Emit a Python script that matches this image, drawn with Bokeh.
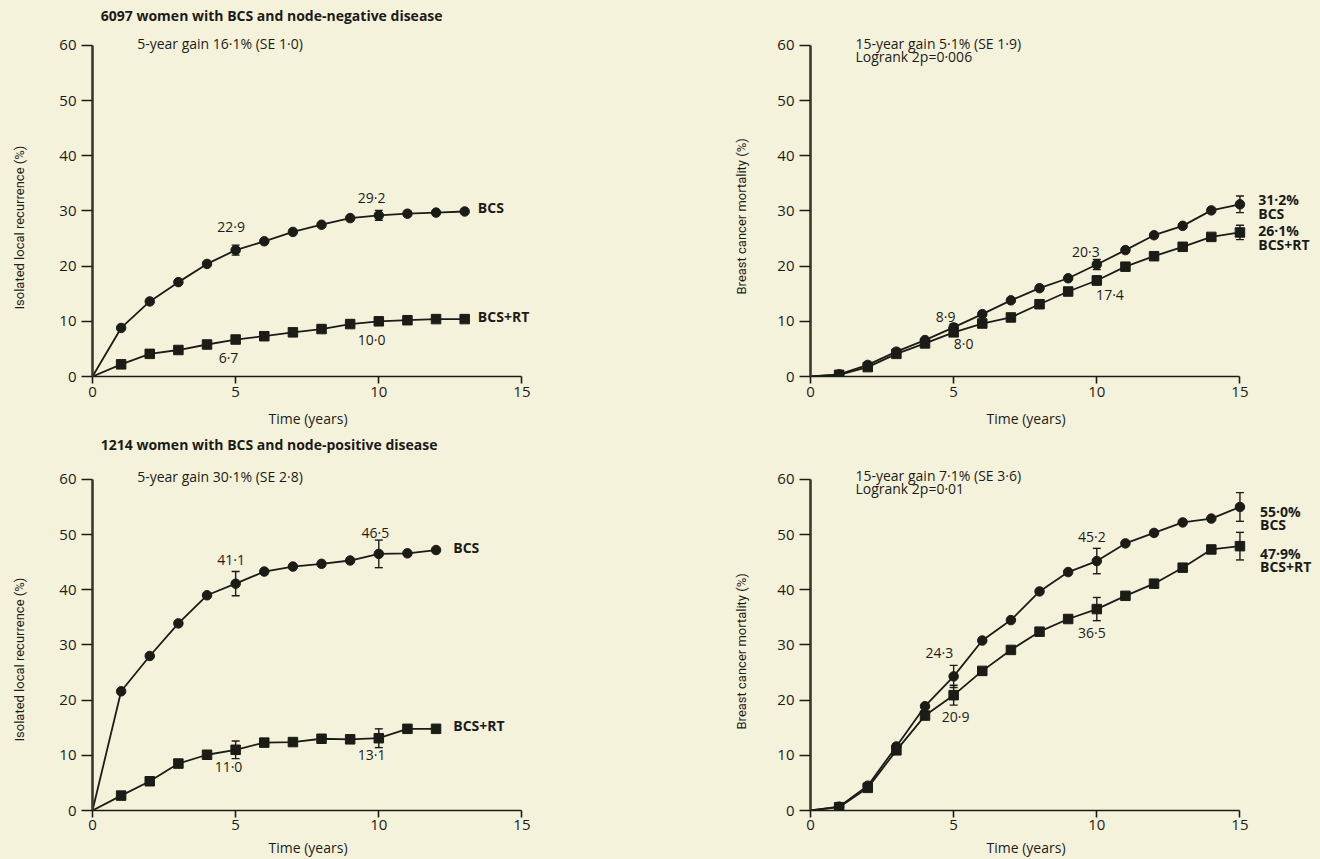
from bokeh.plotting import figure
from bokeh.layouts import column, row
from bokeh.models import Range1d, FixedTicker, ColumnDataSource, Whisker, TeeHead, Title
from bokeh.core.properties import value
from bokeh.embed import file_html
from bokeh.resources import INLINE

# ------------------------------------------------------------------ data
# Panel A: node-negative, isolated local recurrence (%)
a_years = list(range(0, 14))
a_bcs = [0, 8.8, 13.6, 17.1, 20.4, 22.9, 24.5, 26.2, 27.5, 28.7, 29.2, 29.5, 29.7, 29.9]
a_rt = [0, 2.2, 4.1, 4.8, 5.8, 6.7, 7.3, 8.0, 8.6, 9.5, 10.0, 10.2, 10.4, 10.4]
a_err_years = [5, 10]
a_bcs_se = [0.9, 0.9]
a_rt_se = [0.4, 0.5]

# Panel B: node-negative, breast cancer mortality (%)
b_years = list(range(0, 16))
b_bcs = [0, 0.4, 2.1, 4.5, 6.6, 8.9, 11.3, 13.8, 16.0, 17.8, 20.3, 22.9, 25.6, 27.3, 30.1, 31.2]
b_rt = [0, 0.3, 1.7, 4.1, 6.0, 8.0, 9.6, 10.7, 13.1, 15.4, 17.4, 19.9, 21.8, 23.5, 25.3, 26.1]
b_err_years = [5, 10, 15]
b_bcs_se = [0.6, 0.9, 1.5]
b_rt_se = [0.5, 0.8, 1.3]

# Panel C: node-positive, isolated local recurrence (%)
c_years = list(range(0, 13))
c_bcs = [0, 21.6, 28.0, 33.9, 39.0, 41.1, 43.3, 44.2, 44.7, 45.3, 46.5, 46.6, 47.2]
c_rt = [0, 2.7, 5.3, 8.5, 10.1, 11.0, 12.3, 12.4, 13.0, 12.9, 13.1, 14.8, 14.8]
c_err_years = [5, 10]
c_bcs_se = [2.2, 2.5]
c_rt_se = [1.6, 1.7]

# Panel D: node-positive, breast cancer mortality (%)
d_years = list(range(0, 16))
d_bcs = [0, 0.7, 4.5, 11.6, 18.9, 24.3, 30.8, 34.5, 39.7, 43.2, 45.2, 48.4, 50.3, 52.2, 52.9, 55.0]
d_rt = [0, 0.6, 4.1, 10.9, 17.2, 20.9, 25.3, 29.1, 32.4, 34.7, 36.5, 38.9, 41.1, 44.0, 47.3, 47.9]
d_err_years = [5, 10, 15]
d_bcs_se = [2.0, 2.3, 2.6]
d_rt_se = [1.8, 2.1, 2.5]

x_ticks = [0, 5, 10, 15]
y_ticks = [0, 10, 20, 30, 40, 50, 60]

titles = ["6097 women with BCS and node-negative disease",
          "1214 women with BCS and node-positive disease"]
x_label = "Time (years)"
y_label_left = "Isolated local recurrence (%)"
y_label_right = "Breast cancer mortality (%)"
a_notes = ["5-year gain 16·1% (SE 1·0)"]
b_notes = ["15-year gain 5·1% (SE 1·9)", "Logrank 2p=0·006"]
c_notes = ["5-year gain 30·1% (SE 2·8)"]
d_notes = ["15-year gain 7·1% (SE 3·6)", "Logrank 2p=0·01"]

a_values = ["22·9", "29·2", "6·7", "10·0"]
b_values = ["8·9", "20·3", "8·0", "17·4"]
c_values = ["41·1", "46·5", "11·0", "13·1"]
d_values = ["24·3", "45·2", "20·9", "36·5"]

left_ends = ["BCS", "BCS+RT"]
b_ends = ["31·2%", "BCS", "26·1%", "BCS+RT"]
d_ends = ["55·0%", "BCS", "47·9%", "BCS+RT"]

# ------------------------------------------------------------------ style
BG = "#F5F2DC"
INK = "#1c1c17"
FONT = "Open Sans"
NARROW = "Roboto"
PX_X = 28.63          # pixels per year
PX_Y = 332.0 / 60.0   # pixels per percentage point


def make_panel(width, height, left, bottom, ylabel, ylab_offset, ylab_gap,
               tick_standoff, xlab_standoff):
    fw = width - left
    fh = height - bottom
    p = figure(width=width, height=height,
               x_range=Range1d(0, fw / PX_X), y_range=Range1d(0, fh / PX_Y),
               output_backend="svg", toolbar_location=None,
               min_border_left=left, min_border_right=0,
               min_border_top=0, min_border_bottom=bottom,
               background_fill_color=BG, border_fill_color=BG,
               outline_line_color=None)
    p.grid.visible = False
    xa = p.xaxis[0]
    xa.ticker = FixedTicker(ticks=x_ticks)
    xa.bounds = (0, 15)
    xa.major_tick_out = 7
    xa.major_tick_in = 0
    xa.minor_tick_out = 0
    xa.minor_tick_in = 0
    xa.axis_line_width = 1.6
    xa.axis_line_color = INK
    xa.major_tick_line_width = 1.6
    xa.major_tick_line_color = INK
    xa.major_label_text_font = FONT
    xa.major_label_text_font_size = "15px"
    xa.major_label_text_color = INK
    xa.major_label_standoff = tick_standoff

    ya = p.yaxis[0]
    ya.ticker = FixedTicker(ticks=y_ticks)
    ya.bounds = (0, 60)
    ya.major_tick_out = 11
    ya.major_tick_in = 0
    ya.minor_tick_out = 0
    ya.minor_tick_in = 0
    ya.axis_line_width = 2.6
    ya.axis_line_color = "#3a392c"
    ya.major_tick_line_width = 1.6
    ya.major_tick_line_color = INK
    ya.major_label_text_font = FONT
    ya.major_label_text_font_size = "15px"
    ya.major_label_text_color = INK
    ya.major_label_standoff = 5

    # axis titles placed as side titles so they can sit off-centre like the reference
    p.add_layout(Title(text=x_label, align="left", offset=176, standoff=xlab_standoff,
                       text_font=FONT, text_font_size="14px", text_font_style="normal",
                       text_color=INK), "below")
    # thin spacer between the y tick labels and the y axis title
    p.add_layout(Title(text=" ", standoff=ylab_gap, text_font_size="1px",
                       text_color=BG), "left")
    p.add_layout(Title(text=ylabel, align="left", offset=ylab_offset, standoff=0,
                       vertical_align="middle",
                       text_font=NARROW, text_font_size="13px", text_font_style="normal",
                       text_color=INK), "left")
    return p


def add_series(p, years, vals, marker, err_years, se):
    p.line(years, vals, line_color=INK, line_width=1.8)
    p.scatter(years[1:], vals[1:], marker=marker, size=9.5,
              fill_color=INK, line_color=INK)
    src = ColumnDataSource(dict(
        x=err_years,
        up=[vals[years.index(e)] + s for e, s in zip(err_years, se)],
        lo=[vals[years.index(e)] - s for e, s in zip(err_years, se)]))
    p.add_layout(Whisker(source=src, base="x", upper="up", lower="lo",
                         line_color=INK, line_width=1.4,
                         upper_head=TeeHead(size=8, line_color=INK, line_width=1.4),
                         lower_head=TeeHead(size=8, line_color=INK, line_width=1.4)))


def add_text(p, xs, ys, texts, size="13px", style="normal", align="left"):
    p.text(x=xs, y=ys, text=texts, text_font=value(FONT),
           text_font_size=size, text_font_style=style, text_color=INK,
           text_align=align, text_baseline="middle")


# ------------------------------------------------------------------ panels
pa = make_panel(660, 434, 92, 57, y_label_left, 67, 26, 3, 14)
add_series(pa, a_years, a_bcs, "circle", a_err_years, a_bcs_se)
add_series(pa, a_years, a_rt, "square", a_err_years, a_rt_se)
add_text(pa, [0.29], [65.4], titles[:1], size="14px", style="bold")
add_text(pa, [1.56], [60.4], a_notes, size="14px")
add_text(pa, [4.84, 9.75, 4.75, 9.75], [27.1, 32.5, 3.45, 6.7], a_values, size="14px", align="center")
add_text(pa, [13.46, 13.46], [30.6, 10.9], left_ends, size="14px", style="bold")

pb = make_panel(660, 434, 150, 57, y_label_right, 82, 22, 3, 14)
add_series(pb, b_years, b_bcs, "circle", b_err_years, b_bcs_se)
add_series(pb, b_years, b_rt, "square", b_err_years, b_rt_se)
add_text(pb, [1.57, 1.57], [60.4, 58.0], b_notes, size="14px")
add_text(pb, [4.72, 9.62, 5.35, 10.46], [10.9, 22.6, 6.0, 14.8], b_values, size="14px", align="center")
add_text(pb, [15.64] * 4, [32.0, 29.6, 26.4, 24.0], b_ends, size="14px", style="bold")

pc = make_panel(660, 425, 92, 48, y_label_left, 69, 26, 2, 6)
add_series(pc, c_years, c_bcs, "circle", c_err_years, c_bcs_se)
add_series(pc, c_years, c_rt, "square", c_err_years, c_rt_se)
add_text(pc, [0.29], [66.3], titles[1:], size="14px", style="bold")
add_text(pc, [1.56], [60.5], c_notes, size="14px")
add_text(pc, [4.84, 9.88, 4.75, 9.75], [45.5, 50.3, 8.0, 10.1], c_values, size="14px", align="center")
add_text(pc, [12.6, 12.6], [47.6, 15.4], left_ends, size="14px", style="bold")

pd_ = make_panel(660, 425, 150, 48, y_label_right, 81, 22, 2, 6)
add_series(pd_, d_years, d_bcs, "circle", d_err_years, d_bcs_se)
add_series(pd_, d_years, d_rt, "square", d_err_years, d_rt_se)
add_text(pd_, [1.57, 1.57], [60.7, 58.3], d_notes, size="14px")
add_text(pd_, [4.5, 9.83, 5.07, 9.83], [28.6, 49.6, 17.0, 32.2], d_values, size="14px", align="center")
add_text(pd_, [15.7] * 4, [54.2, 51.9, 46.5, 44.3], d_ends, size="14px", style="bold")

layout = column(row(pa, pb, spacing=0), row(pc, pd_, spacing=0), spacing=0,
                styles={"background-color": BG})

open("out.html", "w").write(file_html(layout, INLINE))
